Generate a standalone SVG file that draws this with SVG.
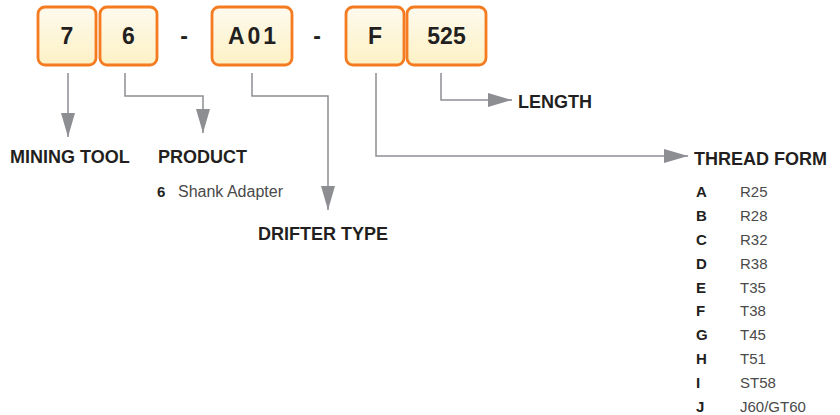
<svg xmlns="http://www.w3.org/2000/svg" width="840" height="415" viewBox="0 0 840 415">
<defs>
<linearGradient id="bg" x1="0" y1="0" x2="0" y2="1">
<stop offset="0" stop-color="#fefaee"/>
<stop offset="1" stop-color="#fdf1c4"/>
</linearGradient>
<marker id="ah" viewBox="0 0 24 14" refX="24" refY="7" markerWidth="24" markerHeight="14" markerUnits="userSpaceOnUse" orient="auto">
<path d="M0 0 L24 7 L0 14 Z" fill="#8d8e92"/>
</marker>
</defs>
<style>
.box{fill:url(#bg);stroke:#f47b20;stroke-width:2.8}
.bt{font-family:"Liberation Sans",Arial,sans-serif;font-weight:bold;font-size:23px;fill:#231f20;text-anchor:middle}
.lab{font-family:"Liberation Sans",Arial,sans-serif;font-weight:bold;font-size:18px;fill:#231f20}
.k{font-family:"Liberation Sans",Arial,sans-serif;font-weight:bold;font-size:15px;fill:#231f20}
.v{font-family:"Liberation Sans",Arial,sans-serif;font-size:15px;fill:#4a4a4a}
.c{fill:none;stroke:#8d8e92;stroke-width:1.5}
</style>
<g id="connectors">
<path class="c" d="M68 73 V137" marker-end="url(#ah)"/>
<path class="c" d="M125 73 V96 H203 V133" marker-end="url(#ah)"/>
<path class="c" d="M252 73 V96 H328 V210" marker-end="url(#ah)"/>
<path class="c" d="M376 73 V156 H688" marker-end="url(#ah)"/>
<path class="c" d="M441 73 V100 H512" marker-end="url(#ah)"/>
</g>
<g id="box-7"><rect class="box" x="38" y="7" width="58" height="58" rx="7"/><text class="bt" x="67" y="44">7</text></g>
<g id="box-6"><rect class="box" x="100" y="7" width="57" height="58" rx="7"/><text class="bt" x="128.5" y="44">6</text></g>
<g id="dash-1"><text class="bt" x="184" y="44">-</text></g>
<g id="box-A01"><rect class="box" x="212" y="7" width="80" height="58" rx="7"/><text class="bt" x="253.5" y="44" letter-spacing="3">A01</text></g>
<g id="dash-2"><text class="bt" x="317" y="44">-</text></g>
<g id="box-F"><rect class="box" x="346" y="7" width="58" height="58" rx="7"/><text class="bt" x="375" y="44">F</text></g>
<g id="box-525"><rect class="box" x="407" y="7" width="79" height="58" rx="7"/><text class="bt" x="446.5" y="44">525</text></g>
<g id="mining-tool"><text class="lab" x="10" y="163">MINING TOOL</text></g>
<g id="product"><text class="lab" x="158" y="163">PRODUCT</text>
<text class="k" x="157" y="197">6</text><text class="v" x="178" y="197" style="font-size:16px">Shank Adapter</text></g>
<g id="drifter-type"><text class="lab" x="258" y="240">DRIFTER TYPE</text></g>
<g id="length"><text class="lab" x="518" y="108">LENGTH</text></g>
<g id="thread-form"><text class="lab" x="694" y="165">THREAD FORM</text>
<text class="k" x="696" y="197">A</text><text class="v" x="740" y="197">R25</text>
<text class="k" x="696" y="221">B</text><text class="v" x="740" y="221">R28</text>
<text class="k" x="696" y="245">C</text><text class="v" x="740" y="245">R32</text>
<text class="k" x="696" y="269">D</text><text class="v" x="740" y="269">R38</text>
<text class="k" x="696" y="293">E</text><text class="v" x="740" y="293">T35</text>
<text class="k" x="696" y="316">F</text><text class="v" x="740" y="316">T38</text>
<text class="k" x="696" y="340">G</text><text class="v" x="740" y="340">T45</text>
<text class="k" x="696" y="364">H</text><text class="v" x="740" y="364">T51</text>
<text class="k" x="696" y="388">I</text><text class="v" x="740" y="388">ST58</text>
<text class="k" x="696" y="412">J</text><text class="v" x="740" y="412">J60/GT60</text>
</g>
</svg>
